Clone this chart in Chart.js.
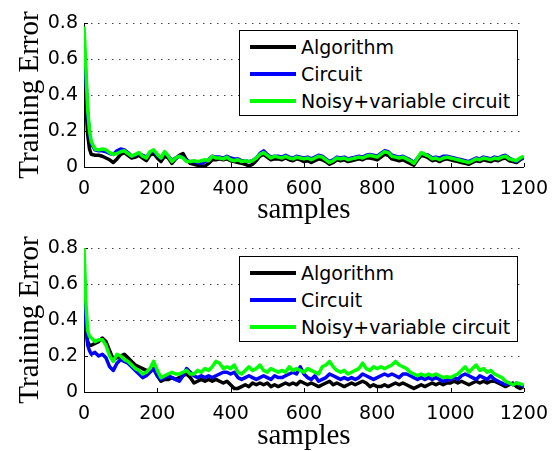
<!DOCTYPE html>
<html>
<head>
<meta charset="utf-8">
<script src="https://cdn.jsdelivr.net/npm/chart.js@4.4.0/dist/chart.umd.min.js"></script>
<style>
  body { margin: 0; background: #fff; width: 559px; height: 451px; position: relative; overflow: hidden; }
  canvas { position: absolute; left: 0; }
  .legend { position: absolute; left: 239px; width: 277px; height: 84px; border: 1.5px solid #000; background: #fff;
            font: 19px "DejaVu Sans", sans-serif; color: #000; }
  .row { position: absolute; left: 0; height: 22px; line-height: 22px; white-space: nowrap; }
  .swatch { position: absolute; left: 10px; top: 9px; width: 46px; height: 3.5px; }
  .label { position: absolute; left: 61px; top: 0; }
  .ytitle { position: absolute; left: -73px; width: 200px; height: 30px; line-height: 30px; text-align: center;
            font: 29px "Liberation Serif", serif; color: #000; transform: rotate(-90deg); white-space: nowrap; }
</style>
</head>
<body>
<canvas id="top" width="559" height="225" style="top:0"></canvas>
<canvas id="bottom" width="559" height="226" style="top:225px"></canvas>
<div class="ytitle" id="titleTop" style="top:80px"></div>
<div class="ytitle" id="titleBottom" style="top:305px"></div>
<div class="legend" id="legendTop" style="top:30px"></div>
<div class="legend" id="legendBottom" style="top:256px"></div>
<script>
const samples = [0, 5, 10, 15,
  20, 30, 40, 50, 60, 70, 80, 90, 100, 110, 120, 130, 140, 150, 160, 170, 180, 190, 200,
  210, 220, 230, 240, 250, 260, 270, 280, 290, 300, 310, 320, 330, 340, 350, 360, 370, 380, 390, 400,
  410, 420, 430, 440, 450, 460, 470, 480, 490, 500, 510, 520, 530, 540, 550, 560, 570, 580, 590, 600,
  610, 620, 630, 640, 650, 660, 670, 680, 690, 700, 710, 720, 730, 740, 750, 760, 770, 780, 790, 800,
  810, 820, 830, 840, 850, 860, 870, 880, 890, 900, 910, 920, 930, 940, 950, 960, 970, 980, 990, 1000,
  1010, 1020, 1030, 1040, 1050, 1060, 1070, 1080, 1090, 1100, 1110, 1120, 1130, 1140, 1150, 1160, 1170, 1180, 1190, 1200]

const seriesNames = ['Algorithm', 'Circuit', 'Noisy+variable circuit']
const seriesColors = ['#000000', '#0000ff', '#00ff00']
const xTicks = [0, 200, 400, 600, 800, 1000, 1200]
const yTicks = [0, 0.2, 0.4, 0.6, 0.8]
const xTitle = 'samples'
const yTitle = 'Training Error'

// top panel
const topAlgorithm = [0.6, 0.35, 0.18, 0.1,
  0.07, 0.065, 0.065, 0.06, 0.05, 0.04, 0.025, 0.045, 0.07, 0.08, 0.065, 0.05, 0.055, 0.065, 0.05, 0.035, 0.065, 0.075, 0.05,
  0.03, 0.06, 0.05, 0.02, 0.045, 0.065, 0.075, 0.04, 0.02, 0.015, 0.01, 0.005, 0.005, 0.02, 0.04, 0.04, 0.045, 0.04, 0.045, 0.035,
  0.03, 0.025, 0.02, 0.015, 0.005, 0.015, 0.035, 0.06, 0.07, 0.055, 0.04, 0.045, 0.045, 0.04, 0.05, 0.04, 0.035, 0.045, 0.04, 0.03,
  0.035, 0.025, 0.035, 0.045, 0.04, 0.03, 0.015, 0.025, 0.04, 0.035, 0.04, 0.03, 0.035, 0.04, 0.045, 0.04, 0.05, 0.05, 0.045, 0.04,
  0.055, 0.07, 0.065, 0.045, 0.04, 0.035, 0.04, 0.03, 0.02, 0.01, 0.04, 0.065, 0.06, 0.05, 0.035, 0.04, 0.03, 0.04, 0.045, 0.04,
  0.035, 0.03, 0.025, 0.02, 0.015, 0.025, 0.035, 0.03, 0.04, 0.035, 0.03, 0.04, 0.035, 0.045, 0.05, 0.035, 0.03, 0.025, 0.04, 0.05]
const topCircuit = [0.7, 0.5, 0.3, 0.18,
  0.13, 0.095, 0.09, 0.09, 0.085, 0.075, 0.07, 0.09, 0.1, 0.095, 0.08, 0.06, 0.065, 0.075, 0.065, 0.055, 0.08, 0.09, 0.065,
  0.05, 0.08, 0.06, 0.035, 0.05, 0.06, 0.055, 0.035, 0.03, 0.03, 0.025, 0.02, 0.03, 0.04, 0.06, 0.055, 0.055, 0.05, 0.06, 0.05,
  0.045, 0.045, 0.035, 0.035, 0.03, 0.035, 0.05, 0.075, 0.09, 0.07, 0.055, 0.06, 0.06, 0.055, 0.065, 0.055, 0.05, 0.06, 0.055, 0.05,
  0.055, 0.045, 0.055, 0.065, 0.06, 0.045, 0.03, 0.04, 0.055, 0.05, 0.055, 0.045, 0.05, 0.055, 0.06, 0.055, 0.065, 0.07, 0.065, 0.06,
  0.075, 0.09, 0.085, 0.065, 0.06, 0.055, 0.06, 0.05, 0.04, 0.025, 0.05, 0.075, 0.07, 0.065, 0.05, 0.055, 0.05, 0.06, 0.06, 0.055,
  0.05, 0.045, 0.04, 0.035, 0.03, 0.04, 0.05, 0.045, 0.055, 0.05, 0.045, 0.055, 0.05, 0.06, 0.065, 0.05, 0.04, 0.03, 0.045, 0.055]
const topNoisy = [0.78, 0.55, 0.32, 0.2,
  0.14, 0.1, 0.095, 0.1, 0.095, 0.08, 0.07, 0.075, 0.085, 0.09, 0.075, 0.06, 0.07, 0.08, 0.06, 0.05, 0.085, 0.095, 0.07,
  0.05, 0.085, 0.06, 0.03, 0.05, 0.06, 0.05, 0.03, 0.03, 0.035, 0.03, 0.035, 0.04, 0.035, 0.06, 0.05, 0.05, 0.045, 0.055, 0.04,
  0.035, 0.04, 0.03, 0.035, 0.03, 0.035, 0.05, 0.07, 0.08, 0.065, 0.05, 0.06, 0.055, 0.05, 0.06, 0.05, 0.045, 0.055, 0.05, 0.045,
  0.05, 0.04, 0.05, 0.06, 0.055, 0.04, 0.025, 0.035, 0.05, 0.045, 0.05, 0.04, 0.045, 0.05, 0.055, 0.05, 0.06, 0.065, 0.06, 0.055,
  0.07, 0.085, 0.08, 0.06, 0.055, 0.05, 0.055, 0.045, 0.035, 0.02, 0.05, 0.08, 0.07, 0.06, 0.045, 0.05, 0.04, 0.05, 0.055, 0.05,
  0.045, 0.04, 0.035, 0.03, 0.025, 0.035, 0.045, 0.04, 0.05, 0.045, 0.04, 0.05, 0.045, 0.055, 0.06, 0.045, 0.04, 0.035, 0.05, 0.06]

// bottom panel
const bottomAlgorithm = [0.55, 0.35, 0.28, 0.26,
  0.26, 0.27, 0.28, 0.3, 0.28, 0.23, 0.18, 0.19, 0.2, 0.21, 0.19, 0.17, 0.15, 0.14, 0.13, 0.12, 0.12, 0.13, 0.09,
  0.06, 0.07, 0.07, 0.08, 0.07, 0.08, 0.09, 0.1, 0.08, 0.05, 0.06, 0.07, 0.06, 0.07, 0.06, 0.07, 0.06, 0.05, 0.06, 0.04,
  0.02, 0.02, 0.03, 0.04, 0.03, 0.05, 0.04, 0.05, 0.04, 0.05, 0.03, 0.04, 0.03, 0.04, 0.05, 0.04, 0.05, 0.04, 0.06, 0.05,
  0.04, 0.05, 0.04, 0.03, 0.04, 0.05, 0.06, 0.04, 0.05, 0.04, 0.03, 0.04, 0.05, 0.04, 0.05, 0.06, 0.05, 0.03, 0.04, 0.03,
  0.03, 0.04, 0.03, 0.04, 0.05, 0.04, 0.05, 0.04, 0.03, 0.02, 0.03, 0.04, 0.03, 0.04, 0.05, 0.04, 0.05, 0.04, 0.05, 0.05,
  0.06, 0.05, 0.06, 0.05, 0.04, 0.05, 0.06, 0.05, 0.06, 0.05, 0.06, 0.06, 0.05, 0.04, 0.03, 0.04, 0.05, 0.03, 0.02, 0.03]
const bottomCircuit = [0.7, 0.38, 0.26, 0.23,
  0.21, 0.22, 0.2, 0.21, 0.19, 0.14, 0.12, 0.16, 0.18, 0.17, 0.16, 0.14, 0.12, 0.1, 0.08, 0.09, 0.11, 0.13, 0.09,
  0.07, 0.08, 0.09, 0.08, 0.07, 0.06, 0.09, 0.13, 0.11, 0.09, 0.08, 0.09, 0.08, 0.09, 0.08, 0.09, 0.1, 0.11, 0.11, 0.1,
  0.11, 0.08, 0.07, 0.08, 0.09, 0.08, 0.07, 0.08, 0.09, 0.08, 0.07, 0.09, 0.08, 0.08, 0.09, 0.1, 0.11, 0.1, 0.14, 0.1,
  0.08, 0.07, 0.09, 0.06, 0.07, 0.08, 0.1, 0.09, 0.08, 0.07, 0.08, 0.07, 0.08, 0.07, 0.08, 0.1, 0.09, 0.08, 0.07, 0.08,
  0.09, 0.1, 0.09, 0.1, 0.09, 0.08, 0.1, 0.1, 0.09, 0.08, 0.07, 0.08, 0.07, 0.08, 0.07, 0.08, 0.07, 0.06, 0.065, 0.07,
  0.08, 0.07, 0.09, 0.1, 0.09, 0.08, 0.07, 0.09, 0.08, 0.07, 0.09, 0.07, 0.06, 0.05, 0.04, 0.05, 0.04, 0.05, 0.04, 0.03]
const bottomNoisy = [0.8, 0.5, 0.34, 0.31,
  0.3, 0.28, 0.29, 0.29, 0.26, 0.2, 0.17, 0.21, 0.2, 0.18, 0.17, 0.15, 0.13, 0.12, 0.1, 0.11, 0.13, 0.17, 0.12,
  0.08, 0.09, 0.1, 0.11, 0.1, 0.1, 0.11, 0.12, 0.1, 0.1, 0.12, 0.11, 0.13, 0.12, 0.14, 0.17, 0.16, 0.13, 0.14, 0.13,
  0.15, 0.11, 0.1, 0.12, 0.14, 0.12, 0.13, 0.15, 0.12, 0.11, 0.13, 0.12, 0.11, 0.12, 0.11, 0.14, 0.12, 0.13, 0.12, 0.11,
  0.13, 0.12, 0.11, 0.1, 0.14, 0.15, 0.17, 0.14, 0.12, 0.11, 0.12, 0.1, 0.11, 0.12, 0.13, 0.16, 0.13, 0.12, 0.14, 0.13,
  0.14, 0.13, 0.14, 0.15, 0.17, 0.15, 0.14, 0.13, 0.11, 0.1, 0.09, 0.1, 0.09, 0.1, 0.09, 0.1, 0.09, 0.08, 0.085, 0.08,
  0.09, 0.1, 0.12, 0.14, 0.11, 0.13, 0.15, 0.12, 0.13, 0.11, 0.12, 0.1, 0.09, 0.08, 0.06, 0.05, 0.04, 0.05, 0.045, 0.04]

const toPoints = values => samples.map((s, i) => ({ x: s, y: values[i] }))

// dotted horizontal grid plus matlab style ticks pointing into the plot
const matlabAxes = {
  id: 'matlabAxes',
  beforeDatasetsDraw(chart) {
    const { ctx, scales: { x, y }, chartArea } = chart
    ctx.save()
    ctx.lineWidth = 1
    ctx.strokeStyle = '#444'
    ctx.setLineDash([1.5, 5.5])
    ctx.beginPath()
    yTicks.filter(v => v > 0).forEach(v => {
      const py = Math.round(y.getPixelForValue(v)) + 0.5
      ctx.moveTo(chartArea.left, py)
      ctx.lineTo(chartArea.right, py)
    })
    ctx.stroke()

    ctx.setLineDash([])
    ctx.strokeStyle = '#000'
    ctx.beginPath()
    xTicks.forEach(v => {
      const px = Math.round(x.getPixelForValue(v)) + 0.5
      ctx.moveTo(px, chartArea.bottom)
      ctx.lineTo(px, chartArea.bottom - 4)
    })
    yTicks.forEach(v => {
      const py = Math.round(y.getPixelForValue(v)) + 0.5
      ctx.moveTo(chartArea.left, py)
      ctx.lineTo(chartArea.left + 4, py)
    })
    ctx.stroke()
    ctx.restore()
  },
}

const drawPanel = (id, series, axisHeight) => {
  const datasets = series.map((values, i) => ({
    label: seriesNames[i],
    data: toPoints(values),
    borderColor: seriesColors[i],
    borderWidth: 3.5,
    pointRadius: 0,
    tension: 0,
    borderJoinStyle: 'round',
    order: series.length - 1 - i,
  }))

  return new Chart(document.getElementById(id), {
    type: 'line',
    data: { datasets },
    plugins: [matlabAxes],
    options: {
      responsive: false,
      animation: false,
      layout: { padding: { top: 23, right: 32, left: 0, bottom: 0 } },
      plugins: { legend: { display: false }, tooltip: { enabled: false } },
      scales: {
        x: {
          type: 'linear', min: 0, max: 1200,
          afterBuildTicks: s => { s.ticks = xTicks.map(v => ({ value: v })) },
          afterFit: s => { s.height = axisHeight },
          grid: { display: false, drawTicks: false },
          border: { display: true, color: '#000', width: 1 },
          ticks: { color: '#000', padding: 11, maxRotation: 0, font: { family: 'DejaVu Sans', size: 19 },
                   callback: v => String(v) },
          title: { display: true, text: xTitle, color: '#000', padding: 0,
                   font: { family: 'Liberation Serif', size: 29, lineHeight: 1 } },
        },
        y: {
          min: 0, max: 0.8,
          afterBuildTicks: s => { s.ticks = yTicks.map(v => ({ value: v })) },
          afterFit: s => { s.width = 84 },
          grid: { display: false, drawTicks: false },
          border: { display: true, color: '#000', width: 1 },
          ticks: { color: '#000', padding: 6, font: { family: 'DejaVu Sans', size: 19 },
                   callback: v => String(+v.toFixed(1)) },
        },
      },
    },
  })
}

const buildLegend = id => {
  const box = document.getElementById(id)
  seriesNames.forEach((name, i) => {
    const row = document.createElement('div')
    row.className = 'row'
    row.style.top = (5 + i * 27) + 'px'
    row.innerHTML = '<span class="swatch" style="background:' + seriesColors[i] + '"></span><span class="label">' + name + '</span>'
    box.appendChild(row)
  })
}

drawPanel('top', [topAlgorithm, topCircuit, topNoisy], 58)
drawPanel('bottom', [bottomAlgorithm, bottomCircuit, bottomNoisy], 59)
buildLegend('legendTop')
buildLegend('legendBottom')
document.getElementById('titleTop').textContent = yTitle
document.getElementById('titleBottom').textContent = yTitle
</script>
</body>
</html>
